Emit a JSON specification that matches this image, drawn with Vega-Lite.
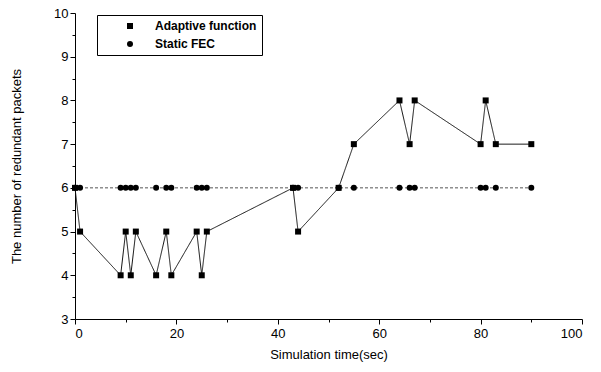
{
  "$schema": "https://vega.github.io/schema/vega-lite/v6.json",
  "autosize": "none",
  "width": 507,
  "height": 306,
  "padding": {"left": 75, "top": 13, "right": 19, "bottom": 53},
  "background": "white",
  "config": {
    "view": {"stroke": null},
    "font": "Liberation Sans",
    "axis": {
      "grid": false,
      "domainColor": "black",
      "tickColor": "black",
      "labelColor": "black",
      "titleColor": "black",
      "labelFont": "Liberation Sans",
      "titleFont": "Liberation Sans",
      "labelFontSize": 13,
      "titleFontSize": 13,
      "titleFontWeight": "normal"
    }
  },
  "data": {
    "values": [
      {"series": "Adaptive function", "time": 0, "value": 6},
      {"series": "Adaptive function", "time": 1, "value": 5},
      {"series": "Adaptive function", "time": 9, "value": 4},
      {"series": "Adaptive function", "time": 10, "value": 5},
      {"series": "Adaptive function", "time": 11, "value": 4},
      {"series": "Adaptive function", "time": 12, "value": 5},
      {"series": "Adaptive function", "time": 16, "value": 4},
      {"series": "Adaptive function", "time": 18, "value": 5},
      {"series": "Adaptive function", "time": 19, "value": 4},
      {"series": "Adaptive function", "time": 24, "value": 5},
      {"series": "Adaptive function", "time": 25, "value": 4},
      {"series": "Adaptive function", "time": 26, "value": 5},
      {"series": "Adaptive function", "time": 43, "value": 6},
      {"series": "Adaptive function", "time": 44, "value": 5},
      {"series": "Adaptive function", "time": 52, "value": 6},
      {"series": "Adaptive function", "time": 55, "value": 7},
      {"series": "Adaptive function", "time": 64, "value": 8},
      {"series": "Adaptive function", "time": 66, "value": 7},
      {"series": "Adaptive function", "time": 67, "value": 8},
      {"series": "Adaptive function", "time": 80, "value": 7},
      {"series": "Adaptive function", "time": 81, "value": 8},
      {"series": "Adaptive function", "time": 83, "value": 7},
      {"series": "Adaptive function", "time": 90, "value": 7},
      {"series": "Static FEC", "time": 0, "value": 6},
      {"series": "Static FEC", "time": 1, "value": 6},
      {"series": "Static FEC", "time": 9, "value": 6},
      {"series": "Static FEC", "time": 10, "value": 6},
      {"series": "Static FEC", "time": 11, "value": 6},
      {"series": "Static FEC", "time": 12, "value": 6},
      {"series": "Static FEC", "time": 16, "value": 6},
      {"series": "Static FEC", "time": 18, "value": 6},
      {"series": "Static FEC", "time": 19, "value": 6},
      {"series": "Static FEC", "time": 24, "value": 6},
      {"series": "Static FEC", "time": 25, "value": 6},
      {"series": "Static FEC", "time": 26, "value": 6},
      {"series": "Static FEC", "time": 43, "value": 6},
      {"series": "Static FEC", "time": 44, "value": 6},
      {"series": "Static FEC", "time": 52, "value": 6},
      {"series": "Static FEC", "time": 55, "value": 6},
      {"series": "Static FEC", "time": 64, "value": 6},
      {"series": "Static FEC", "time": 66, "value": 6},
      {"series": "Static FEC", "time": 67, "value": 6},
      {"series": "Static FEC", "time": 80, "value": 6},
      {"series": "Static FEC", "time": 81, "value": 6},
      {"series": "Static FEC", "time": 83, "value": 6},
      {"series": "Static FEC", "time": 90, "value": 6}
    ]
  },
  "resolve": {"axis": {"x": "independent", "y": "independent"}},
  "layer": [
    {
      "mark": {"type": "line", "strokeWidth": 1},
      "encoding": {
        "x": {
          "field": "time", "type": "quantitative",
          "scale": {"domain": [0, 100], "nice": false},
          "axis": {"orient": "bottom", "values": [0, 20, 40, 60, 80, 100], "tickSize": 5, "labelPadding": 3, "title": "Simulation time(sec)", "titlePadding": 8}
        },
        "y": {
          "field": "value", "type": "quantitative",
          "scale": {"domain": [3, 10], "nice": false, "zero": false},
          "axis": {"orient": "left", "values": [3, 4, 5, 6, 7, 8, 9, 10], "tickSize": 5, "labelPadding": 2, "title": "The number of redundant packets", "titlePadding": 30}
        },
        "color": {"field": "series", "type": "nominal", "scale": {"domain": ["Static FEC", "Adaptive function"], "range": ["#555555", "#111111"]}, "legend": null},
        "strokeDash": {"field": "series", "type": "nominal", "scale": {"domain": ["Static FEC", "Adaptive function"], "range": [[3, 2], [1, 0]]}, "legend": null}
      }
    },
    {
      "mark": {"type": "point", "filled": true, "opacity": 1, "color": "black", "size": 36},
      "encoding": {
        "x": {
          "field": "time", "type": "quantitative",
          "axis": {"orient": "bottom", "values": [10, 30, 50, 70, 90], "tickSize": 3, "labels": false, "domain": false, "title": null}
        },
        "y": {
          "field": "value", "type": "quantitative",
          "axis": {"orient": "left", "values": [3.5, 4.5, 5.5, 6.5, 7.5, 8.5, 9.5], "tickSize": 3, "labels": false, "domain": false, "title": null}
        },
        "shape": {
          "field": "series", "type": "nominal",
          "scale": {"domain": ["Adaptive function", "Static FEC"], "range": ["square", "circle"]},
          "legend": {
            "title": null,
            "orient": "none",
            "legendX": 22,
            "legendY": 2,
            "strokeColor": "black",
            "fillColor": "white",
            "padding": 5,
            "rowPadding": 6,
            "symbolSize": 36,
            "symbolOffset": 22,
            "symbolStrokeWidth": 1,
            "symbolFillColor": "black",
            "symbolStrokeColor": "black",
            "labelFont": "Liberation Sans",
            "labelFontWeight": "bold",
            "labelFontSize": 12,
            "labelColor": "black",
            "labelOffset": 19,
            "encode": {
              "symbols": {
                "fill": {"value": "black"},
                "stroke": {"value": "black"},
                "strokeWidth": {"value": 1},
                "opacity": {"value": 1}
              },
              "legend": {
                "strokeWidth": {"value": 1.5}
              }
            }
          }
        }
      }
    }
  ]
}
